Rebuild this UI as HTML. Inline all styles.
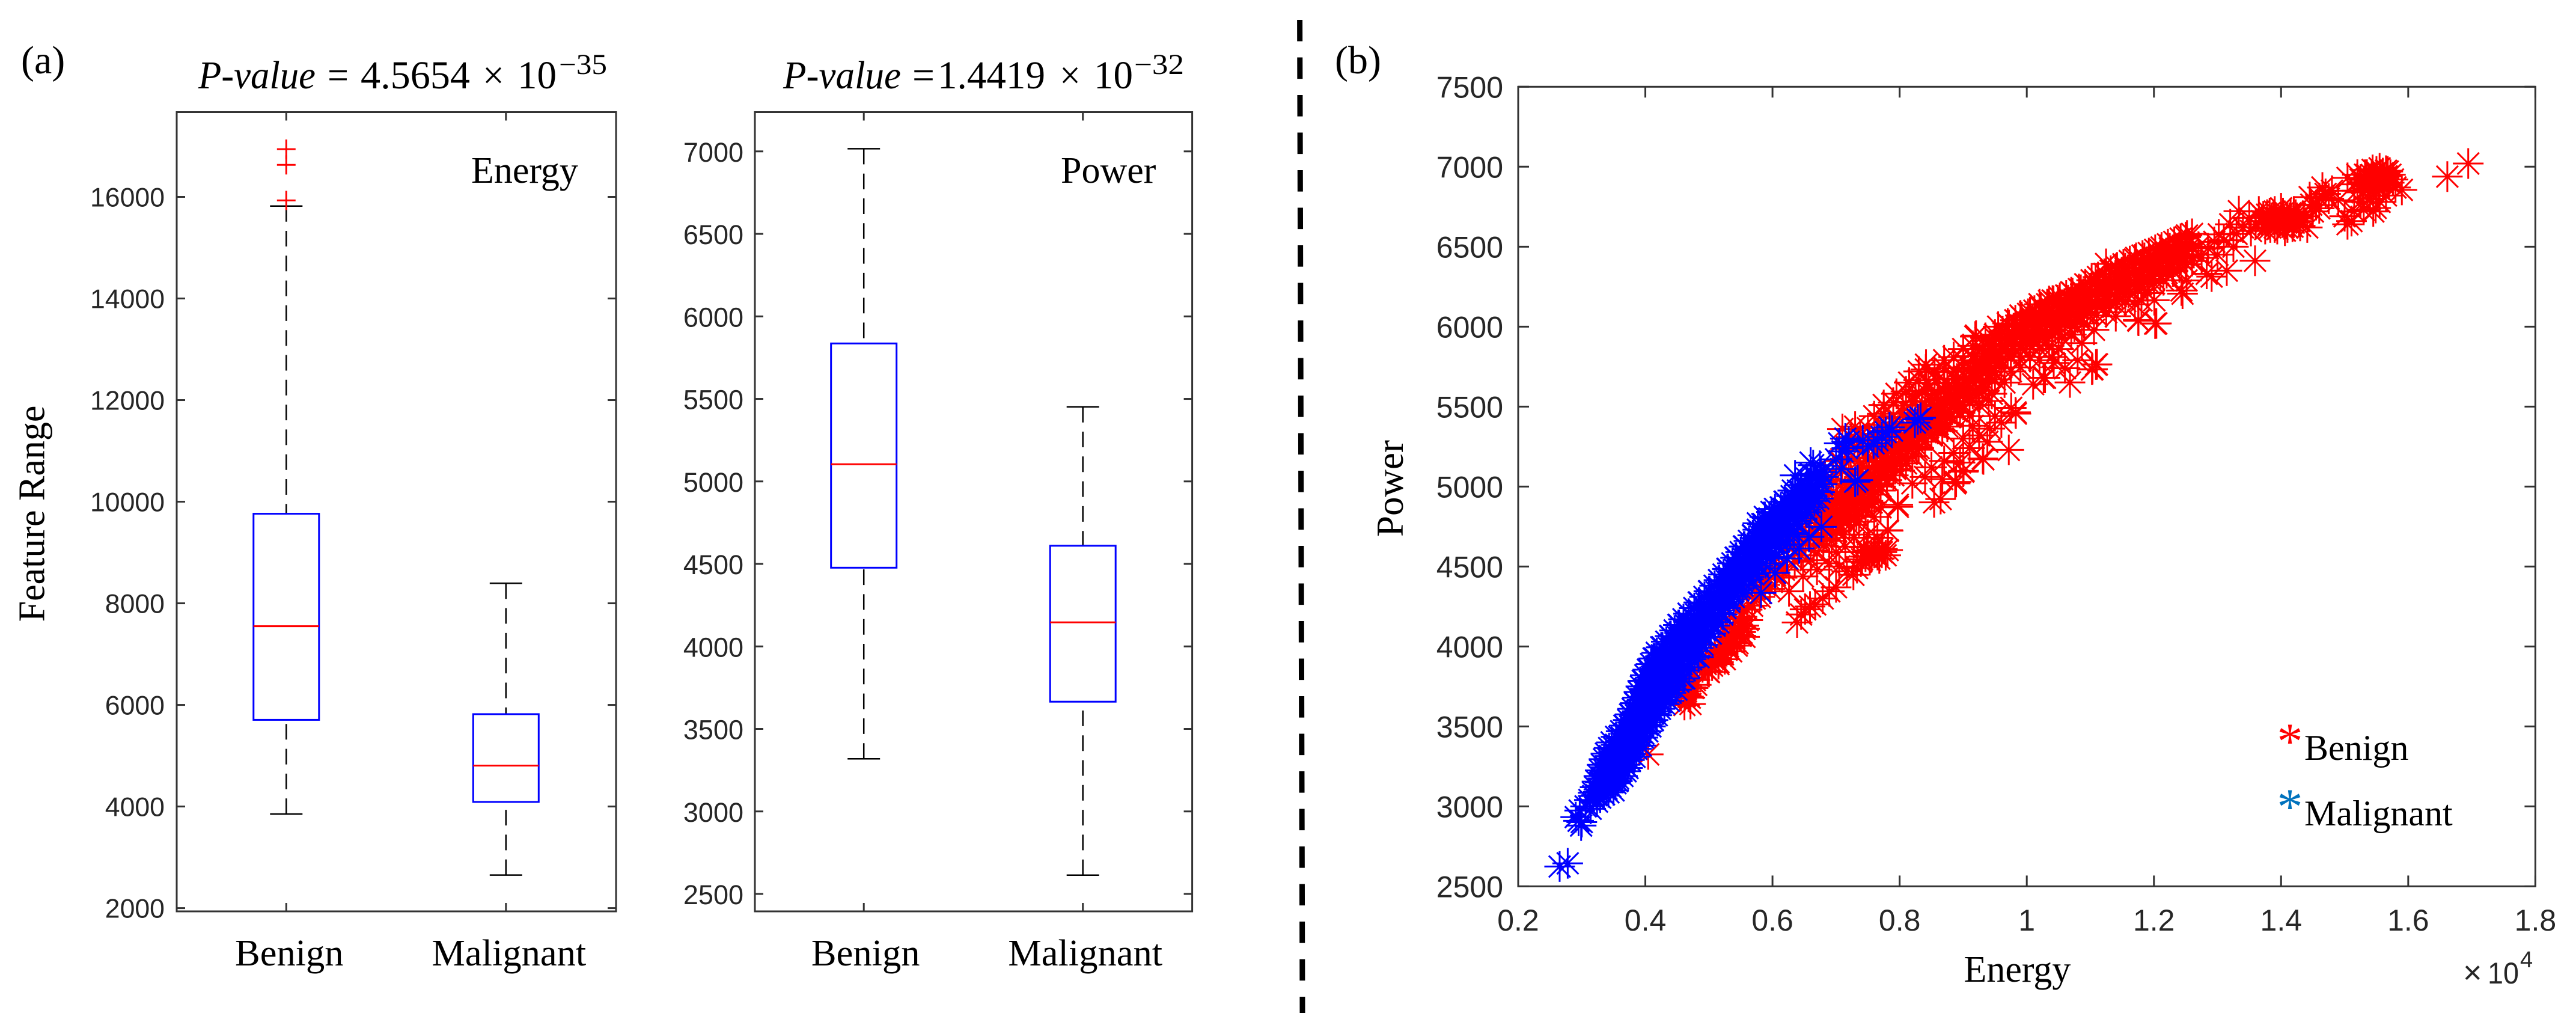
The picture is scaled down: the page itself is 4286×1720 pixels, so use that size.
<!DOCTYPE html>
<html lang="en">
<head>
<meta charset="utf-8">
<title>Benign vs Malignant feature comparison</title>
<style>
html,body{margin:0;padding:0;background:#fff;width:4286px;height:1720px;overflow:hidden}
svg{display:block}
.serif{font-family:"Liberation Serif",serif;fill:#000}
.sans{font-family:"Liberation Sans",sans-serif;fill:#262626}
</style>
</head>
<body>
<svg id="fig" xmlns="http://www.w3.org/2000/svg" width="4286" height="1720" viewBox="0 0 4286 1720">
<rect width="4286" height="1720" fill="#fff"/>
<text class="serif" x="35" y="122" font-size="66">(a)</text>
<text class="serif" x="2221" y="122" font-size="66">(b)</text>

<g class="serif" font-size="66">
<text class="serif" x="330" y="147" font-style="italic" textLength="195" lengthAdjust="spacingAndGlyphs">P-value</text>
<text class="serif" x="545" y="147" textLength="35" lengthAdjust="spacingAndGlyphs">=</text>
<text class="serif" x="600" y="147" textLength="182" lengthAdjust="spacingAndGlyphs">4.5654</text>
<text class="serif" x="803" y="147" textLength="36" lengthAdjust="spacingAndGlyphs">×</text>
<text class="serif" x="861" y="147" textLength="65" lengthAdjust="spacingAndGlyphs">10</text>
<text class="serif" x="930" y="123" font-size="48" textLength="80" lengthAdjust="spacingAndGlyphs">−35</text>
</g>
<g class="serif" font-size="66">
<text class="serif" x="1303" y="147" font-style="italic" textLength="196" lengthAdjust="spacingAndGlyphs">P-value</text>
<text class="serif" x="1518" y="147" textLength="37" lengthAdjust="spacingAndGlyphs">=</text>
<text class="serif" x="1560" y="147" textLength="179" lengthAdjust="spacingAndGlyphs">1.4419</text>
<text class="serif" x="1763" y="147" textLength="35" lengthAdjust="spacingAndGlyphs">×</text>
<text class="serif" x="1820" y="147" textLength="65" lengthAdjust="spacingAndGlyphs">10</text>
<text class="serif" x="1887" y="123" font-size="48" textLength="83" lengthAdjust="spacingAndGlyphs">−32</text>
</g>

<text class="serif" x="784" y="304" font-size="62">Energy</text>
<text class="serif" x="1765" y="304" font-size="62">Power</text>
<text class="serif" font-size="62" text-anchor="middle" transform="translate(73.6 854.5) rotate(-90)">Feature Range</text>
<text class="serif" font-size="63" text-anchor="middle" transform="translate(2334 812.5) rotate(-90)">Power</text>
<text class="serif" x="3267.5" y="1633" font-size="62">Energy</text>

<g>
<text class="sans" x="4098" y="1636" font-size="54">×</text>
<text class="sans" x="4139" y="1636" font-size="50" textLength="52" lengthAdjust="spacingAndGlyphs">10</text>
<text class="sans" x="4193" y="1609" font-size="38">4</text>
</g>

<line x1="2162.6" y1="33" x2="2167" y2="1685" stroke="#000" stroke-width="9" stroke-dasharray="35.6 26.9"/>

<g id="panelEnergy"></g>
<g id="panelPower"></g>
<g id="panelScatter"></g>

<g>
<text x="3810" y="1262" text-anchor="middle" font-family="Liberation Serif, serif" font-size="86" fill="#ff0000">*</text>
<text class="serif" x="3834" y="1264" font-size="60">Benign</text>
<text x="3810" y="1371" text-anchor="middle" font-family="Liberation Serif, serif" font-size="86" fill="#0072bd">*</text>
<text class="serif" x="3834" y="1373" font-size="60">Malignant</text>
</g>
</svg>

<script>
const boxCategories = ["Benign", "Malignant"];
const energyTicks = [2000, 4000, 6000, 8000, 10000, 12000, 14000, 16000];
const energyLow = [3851, 2650];
const energyQ1 = [5706, 4090];
const energyMedian = [7550, 4805];
const energyQ3 = [9763, 5818];
const energyHigh = [15820, 8394];
const energyOutliers = [16940, 16630, 15930];
const powerTicks = [2500, 3000, 3500, 4000, 4500, 5000, 5500, 6000, 6500, 7000];
const powerLow = [3319, 2614];
const powerQ1 = [4477, 3665];
const powerMedian = [5104, 4146];
const powerQ3 = [5836, 4610];
const powerHigh = [7016, 5452];
const scatterXTicks = [2000, 4000, 6000, 8000, 10000, 12000, 14000, 16000, 18000];
const scatterXLabels = ["0.2", "0.4", "0.6", "0.8", "1", "1.2", "1.4", "1.6", "1.8"];
const scatterYTicks = [2500, 3000, 3500, 4000, 4500, 5000, 5500, 6000, 6500, 7000, 7500];

const benignPoints = [
[4045,3325],[4615,3634],[4678,3686],[4560,3690],[4640,3720],[4720,3745],[4600,3780],[4690,3800],[4780,3790],
[4820,3850],[4900,3870],[4980,3845],[4860,3915],[4950,3930],[5040,3905],[5150,3902],[5220,3950],[5090,3975],
[5180,4010],[5280,3990],[5360,4030],[5437,4005],[5500,4067],[5260,4060],[5400,4095],[5330,4120],[5480,4130],[5560,4110],
[5420,4170],[5520,4185],[5610,4165],[5500,4240],[5600,4230],[5680,4255],[5720,4300],[5620,4320],[5800,4310],
[5820,4335],[5750,4370],[5880,4385],[5960,4360],[5840,4430],[5950,4420],[6040,4445],[6150,4430],
[5950,4490],[6060,4500],[6180,4480],[6260,4345],[6480,4438],[6387,4150],[6513,4232],[6672,4263],[6893,4345],[6790,4300],[6590,4250],[6450,4200],[7000,4370],
[6100,4560],[6230,4550],[6350,4530],[6450,4570],[6893,4520],[6700,4480],[6600,4540],[7050,4500],[7273,4448],[7170,4470],[7463,4562],[7560,4560],[7652,4572],[7811,4603],[7720,4590],[7390,4530],[7330,4490],[7600,4620],[7500,4600],
[6250,4620],[6400,4610],[6520,4640],[6650,4600],[6800,4630],[7146,4624],[7000,4590],[6930,4660],
[6330,4680],[6470,4690],[6600,4700],[6720,4680],[6850,4710],[7000,4720],[7120,4700],[7280,4680],[7811,4727],[7500,4700],[7650,4680],
[6450,4750],[6580,4770],[6700,4745],[6830,4775],[6950,4760],[7080,4790],[7210,4760],[7360,4780],[7466,4847],
[6520,4820],[6660,4830],[6800,4810],[6930,4840],[7060,4825],[7190,4850],[7320,4820],[7600,4810],
[6600,4880],[6740,4900],[6880,4885],[7020,4905],[7160,4890],[7300,4915],[7430,4890],[7560,4900],[7818,4724],[7972,4873],[7700,4870],
[6700,4950],[6850,4965],[7000,4945],[7140,4970],[7280,4955],[7420,4980],[7560,4950],[7700,4975],[7970,4886],[8542,4901],[8645,4922],
[6820,5020],[6960,5035],[7100,5015],[7240,5040],[7380,5020],[7520,5045],[7660,5020],[7800,5040],[8873,5020],[8671,5047],[8888,5029],
[6950,5090],[7090,5105],[7230,5085],[7370,5110],[7510,5090],[7650,5115],[7790,5090],[7930,5110],[9006,5098],[9000,5093],[8400,5060],[8200,5020],
[7060,5160],[7200,5175],[7340,5155],[7480,5180],[7620,5160],[7760,5185],[7900,5160],[8040,5180],[9308,5175],[9317,5170],[8500,5120],[8700,5160],[8950,5150],
[7150,5235],[7290,5250],[7430,5230],[7570,5255],[7710,5235],[7850,5260],[7990,5235],[8130,5255],[8270,5230],[9717,5229],[9380,5280],[9100,5240],[8850,5210],
[7240,5310],[7380,5325],[7520,5305],[7660,5330],[7800,5310],[7940,5335],[8080,5310],[8220,5330],[8360,5305],[8500,5330],[8671,5348],[9418,5362],[9250,5320],[9000,5300],
[7100,5360],[7300,5375],[7500,5365],[7700,5385],[7850,5370],[8000,5395],[8150,5370],[8300,5395],[8450,5370],[8600,5390],[8750,5375],[9150,5380],[9823,5464],[9828,5456],[9755,5492],[9500,5440],[9600,5400],
[7600,5440],[7750,5455],[7900,5435],[8050,5460],[8200,5440],[8350,5465],[8500,5440],[8650,5465],[8800,5440],[8950,5460],[9100,5440],
[7750,5510],[7900,5525],[8050,5505],[8200,5530],[8350,5510],[8500,5535],[8650,5510],[8800,5535],[8950,5510],[9100,5530],[9250,5510],[9400,5535],
[7950,5580],[8100,5595],[8250,5575],[8400,5600],[8550,5580],[8700,5605],[8850,5580],[9000,5605],[9150,5580],[9300,5600],[9450,5580],
[8150,5650],[8300,5665],[8450,5645],[8600,5670],[8750,5650],[8900,5675],[9050,5650],[9200,5675],[9350,5650],[9500,5670],[9650,5650],[10287,5680],[10679,5651],[10266,5680],[10100,5640],
[8300,5720],[8412,5732],[8415,5762],[8550,5715],[8700,5740],[8850,5720],[9000,5745],[9150,5720],[9300,5745],[9450,5720],[9600,5745],[9750,5720],[9900,5745],[11104,5764],[11034,5734],[11089,5763],[11025,5732],[10424,5773],[10600,5740],[10800,5790],
[8700,5790],[8850,5810],[9000,5790],[9150,5815],[9300,5790],[9450,5815],[9600,5790],[9750,5815],[9900,5790],[10050,5810],[10200,5790],[10400,5810],
[9000,5860],[9150,5880],[9300,5860],[9450,5885],[9600,5860],[9750,5885],[9900,5860],[10050,5885],[10200,5860],[10350,5880],[10500,5860],[10867,5897],
[9202,5944],[9190,5938],[9350,5930],[9500,5950],[9650,5930],[9800,5955],[9950,5930],[10100,5955],[10250,5930],[10400,5950],[10550,5930],[10700,5950],
[9550,6000],[9700,6020],[9850,6000],[10000,6025],[10150,6000],[10300,6025],[10450,6000],[10600,6020],[10750,6000],[10900,6020],[11057,5980],[11753,6041],[11757,6037],[12019,6019],[12038,6020],
[9900,6070],[10050,6090],[10200,6070],[10350,6095],[10500,6070],[10650,6090],[10800,6070],[10950,6090],[11100,6070],[11250,6090],[11400,6065],
[10200,6140],[10350,6160],[10406,6163],[10500,6140],[10650,6165],[10800,6140],[10950,6165],[11100,6140],[11250,6165],[11400,6140],[11550,6160],[11700,6140],[12006,6165],[11804,6163],
[10487,6165],[10700,6215],[10850,6230],[11000,6210],[11150,6235],[11300,6210],[11450,6235],[11600,6210],[11750,6230],[11900,6210],[12450,6206],[12433,6226],[11120,6227],
[11082,6288],[11250,6290],[11400,6275],[11550,6295],[11700,6275],[11850,6295],[12000,6270],[12150,6290],[12513,6289],
[11247,6392],[11400,6350],[11550,6365],[11700,6345],[11850,6365],[11943,6412],[12000,6350],[12150,6360],[12300,6345],[12830,6330],[13146,6350],[12908,6313],
[11700,6420],[11850,6430],[12000,6410],[12150,6430],[12300,6420],[12450,6440],[12513,6474],[12600,6410],[12750,6430],[13590,6412],
[12100,6480],[12250,6490],[12400,6500],[12550,6520],[12700,6500],[12850,6490],[13000,6450],[12500,6560],[12600,6580],
[13020,6577],[12950,6530],[13100,6540],[13250,6500],[13300,6580],[13400,6620],[13336,6722],[13526,6598],[13200,6640],
[13500,6680],[13600,6640],[13700,6660],[13780,6700],[13800,6640],[13850,6680],[13900,6720],[13950,6650],[14000,6690],[14050,6640],[14096,6680],[14150,6710],[14200,6650],[14250,6680],[14300,6630],[14350,6690],[14412,6620],[13650,6720],[13900,6620],[14100,6620],[13750,6610],[14000,6740],[14200,6720],
[14475,6763],[14602,6804],[14700,6830],[14550,6760],[14650,6870],[14800,6850],[14500,6720],[14450,6810],[14600,6740],[14750,6800],[14900,6790],
[15045,6930],[15108,6660],[15045,6640],[15000,6690],[15150,6720],[15250,6780],[15200,6850],[15300,6900],[15350,6950],[15425,6948],[15500,6970],[15550,6990],[15600,6960],[15650,6975],[15678,6970],[15600,6900],[15500,6850],[15488,6742],[15400,6800],[15700,6900],[15800,6870],[15900,6855],[15550,6780],[15450,6720],[15200,6950],[15150,6890],[15300,6730],[15400,6880],[15650,6820],
[16615,6938],[16944,7020],
[5100,3930],[5200,3960],[5300,4000],[5400,4050],[5500,4090],[5350,3970],[5450,4020],[5250,3920],[5550,4130],[5150,3890],[5050,3880],[5000,3840],[4950,3890],[5220,4010],[5330,4060],[5420,4110],[5560,4060],[4700,3680],[4750,3740],[4650,3760],[4800,3760],[4620,3690],[4710,3640],
[6800,4670],[6810,4730],[6790,4790],[6900,4730],[6910,4790],[6890,4850],[7000,4770],[7010,4830],[6990,4890],[7100,4800],[7110,4860],[7090,4920],[7200,4830],[7210,4890],[7190,4950],[7300,4860],[7310,4920],[7290,4980],
[7410,4545],[7480,4590],[7530,4540],[7600,4585],[7680,4550],[7730,4610],[7780,4570],[7440,4620],
[7400,4870],[7410,4930],[7390,4990],[7420,5050],[7500,4910],[7510,4970],[7490,5030],[7520,5090],[7600,4950],[7610,5010],[7590,5070],[7620,5130],[7700,5000],[7710,5060],[7690,5120],[7720,5180],[7800,5040],[7810,5100],[7790,5160],[7820,5220],
[7900,5070],[7910,5130],[7890,5190],[7920,5250],[8000,5100],[8010,5160],[7990,5220],[8020,5280],[8100,5145],[8110,5205],[8090,5265],[8120,5325],[8200,5190],[8210,5250],[8190,5310],[8220,5370],[8300,5240],[8310,5300],[8290,5360],[8320,5420],
[8400,5280],[8410,5340],[8390,5400],[8420,5460],[8500,5320],[8510,5380],[8490,5440],[8520,5500],[8600,5360],[8610,5420],[8590,5480],[8620,5540],[8700,5400],[8710,5460],[8690,5520],[8720,5580],[8800,5435],[8810,5495],[8790,5555],[8820,5615],
[8900,5470],[8910,5530],[8890,5590],[8920,5650],[9000,5510],[9010,5570],[8990,5630],[9020,5690],[9100,5555],[9110,5615],[9090,5675],[9120,5735],[9200,5600],[9210,5660],[9190,5720],[9220,5780],[9300,5650],[9310,5710],[9290,5770],[9320,5830],
[9400,5695],[9410,5755],[9390,5815],[9420,5875],[9500,5740],[9510,5800],[9490,5860],[9520,5920],[9600,5790],[9610,5850],[9590,5910],[9620,5970],[9700,5830],[9710,5890],[9690,5950],[9720,6010],[9800,5860],[9810,5920],[9790,5980],[9820,6040],
[9900,5880],[9910,5940],[9890,6000],[9920,6060],[10000,5900],[10010,5960],[9990,6020],[10020,6080],[10100,5920],[10110,5980],[10090,6040],[10120,6100],[10200,5940],[10210,6000],[10190,6060],[10220,6120],[10300,5960],[10310,6020],[10290,6080],[10320,6140],
[10400,5980],[10410,6040],[10390,6100],[10420,6160],[10500,6000],[10510,6060],[10490,6120],[10520,6180],[10600,6015],[10610,6075],[10590,6135],[10620,6195],[10700,6030],[10710,6090],[10690,6150],[10720,6210],[10800,6055],[10810,6115],[10790,6175],[10820,6235],
[10900,6085],[10910,6145],[10890,6205],[10920,6265],[11000,6110],[11010,6170],[10990,6230],[11020,6290],[11100,6130],[11110,6190],[11090,6250],[11120,6310],[11200,6150],[11210,6210],[11190,6270],[11220,6330],[11300,6170],[11310,6230],[11290,6290],[11320,6350],
[11400,6190],[11410,6250],[11390,6310],[11420,6370],[11500,6210],[11510,6270],[11490,6330],[11520,6390],[11600,6230],[11610,6290],[11590,6350],[11620,6410],[11700,6250],[11710,6310],[11690,6370],[11720,6430],[11800,6265],[11810,6325],[11790,6385],[11820,6445],
[11900,6280],[11910,6340],[11890,6400],[11920,6460],[12000,6300],[12010,6360],[11990,6420],[12020,6480],[12100,6315],[12110,6375],[12090,6435],[12120,6495],[12200,6335],[12210,6395],[12190,6455],[12220,6515],[12300,6350],[12310,6410],[12290,6470],[12320,6530],
[12400,6370],[12410,6430],[12390,6490],[12420,6550],[12500,6390],[12510,6450],[12490,6510],[12520,6570],
[13780,6660],[13830,6620],[13880,6690],[13940,6610],[13980,6660],[14030,6710],[14080,6650],[14130,6680],[14180,6625],[14230,6700],[14280,6660],[13720,6690],[13820,6710],[13920,6680],[14060,6600],
[15250,6920],[15320,6950],[15380,6910],[15440,6980],[15480,6930],[15530,6900],[15570,6950],[15620,6930],[15660,6940],[15540,6860],[15450,6890],[15360,6860],[15280,6840],[15720,6950],[15760,6920]
];

const malignantPoints = [
[2652,2624],[2779,2644],[2905,2933],[3000,2902],[2968,2974],[2990,2880],[2950,2910],
[3060,3000],[3120,3040],[3180,3065],[3240,3030],[3290,3055],[3140,2985],
[3210,3120],[3270,3105],[3330,3130],[3390,3110],[3450,3125],[3500,3100],[3230,3070],[3350,3075],
[3270,3190],[3330,3175],[3390,3200],[3450,3180],[3510,3195],[3570,3175],[3640,3190],[3290,3150],[3420,3155],[3530,3145],
[3320,3260],[3380,3245],[3440,3270],[3500,3250],[3560,3265],[3620,3245],[3680,3260],[3720,3240],[3360,3225],[3480,3220],[3600,3215],
[3380,3330],[3440,3315],[3500,3340],[3570,3320],[3640,3335],[3700,3315],[3770,3330],[3830,3310],[3420,3295],[3540,3290],[3660,3285],
[3470,3400],[3540,3385],[3610,3410],[3680,3390],[3750,3405],[3820,3385],[3880,3400],[3930,3380],[3510,3365],[3640,3360],[3780,3355],
[3620,3470],[3690,3455],[3760,3480],[3830,3460],[3900,3475],[3970,3455],[4030,3470],[3590,3435],[3720,3430],[3860,3425],
[3730,3540],[3800,3525],[3870,3550],[3940,3530],[4010,3545],[4070,3525],[4120,3540],[3680,3505],[3810,3495],[3950,3495],
[3800,3610],[3870,3595],[3940,3620],[4010,3600],[4080,3615],[4150,3595],[4230,3610],[3770,3575],[3900,3570],[4040,3570],
[3880,3680],[3950,3665],[4020,3690],[4090,3670],[4170,3685],[4240,3665],[4310,3680],[4370,3660],[3850,3645],[3990,3640],[4130,3640],
[3930,3750],[4000,3735],[4080,3760],[4160,3740],[4240,3755],[4320,3735],[4400,3750],[4490,3730],[3900,3715],[4060,3710],[4220,3705],
[4000,3820],[4080,3805],[4160,3830],[4240,3810],[4320,3825],[4400,3805],[4480,3820],[4590,3800],[3980,3785],[4140,3780],[4300,3775],
[4090,3890],[4170,3875],[4250,3900],[4330,3880],[4410,3895],[4490,3875],[4570,3890],[4690,3870],[4836,3933],[4615,3800],[4060,3855],[4230,3850],[4400,3845],
[4180,3960],[4260,3945],[4340,3970],[4420,3950],[4500,3965],[4580,3945],[4660,3960],[4780,3940],[4150,3925],[4320,3920],[4500,3915],
[4330,4030],[4410,4015],[4490,4040],[4570,4020],[4650,4035],[4730,4015],[4810,4030],[4900,4010],[4270,3995],[4440,3990],[4620,3985],
[4460,4100],[4540,4085],[4620,4110],[4700,4090],[4780,4105],[4860,4085],[4940,4100],[5030,4080],[4400,4065],[4580,4060],[4760,4055],
[4600,4170],[4680,4155],[4760,4180],[4840,4160],[4920,4175],[5000,4155],[5080,4170],[5150,4150],[4530,4135],[4710,4130],[4890,4125],
[4770,4240],[4850,4225],[4930,4250],[5010,4230],[5090,4245],[5170,4225],[5260,4240],[4680,4205],[4860,4200],[5040,4195],
[4930,4310],[5010,4295],[5090,4320],[5170,4300],[5250,4315],[5330,4295],[5390,4310],[4850,4275],[5030,4270],[5210,4265],
[5090,4380],[5170,4365],[5250,4390],[5330,4370],[5410,4385],[5490,4365],[5530,4380],[5010,4345],[5190,4340],[5370,4335],
[5230,4450],[5310,4435],[5390,4460],[5470,4440],[5550,4455],[5630,4435],[5700,4450],[5160,4414],[5350,4410],[5520,4405],
[5370,4520],[5450,4505],[5530,4530],[5610,4510],[5690,4525],[5770,4505],[5890,4520],[5300,4485],[5480,4480],[5660,4475],[5820,4335],[6040,4460],
[5500,4590],[5580,4575],[5660,4600],[5740,4580],[5820,4595],[5900,4575],[6030,4590],[5430,4555],[5610,4550],[5790,4545],[6230,4550],
[5630,4660],[5710,4645],[5790,4670],[5870,4650],[5950,4665],[6030,4645],[6110,4660],[6230,4640],[5560,4625],[5740,4620],[5920,4615],[6420,4613],
[5770,4730],[5850,4715],[5930,4740],[6010,4720],[6090,4735],[6170,4715],[6250,4730],[6340,4710],[5700,4695],[5880,4690],[6060,4685],[6575,4685],[6770,4748],
[5950,4800],[6030,4785],[6110,4810],[6190,4790],[6270,4805],[6350,4785],[6470,4800],[5860,4765],[6040,4760],[6220,4755],[5770,4770],[5880,4810],[6040,4860],
[6130,4870],[6210,4855],[6290,4880],[6370,4860],[6450,4875],[6530,4855],[6600,4870],[5984,4841],[6220,4830],[6400,4825],
[6300,4940],[6380,4925],[6460,4950],[6540,4930],[6620,4945],[6720,4925],[6200,4905],[6380,4900],[6560,4895],
[6355,5070],[6450,5010],[6530,4995],[6610,5020],[6690,5000],[6780,5015],[6400,4975],[6580,4970],[6740,4965],
[6600,5080],[6680,5065],[6760,5090],[6640,5134],[6600,5150],[6744,5130],[6540,5050],[6700,5040],[6800,5060],
[7080,5110],[7146,5300],[7300,5030],[7340,5040],[7000,5170],[7100,5220],[7050,5270],[7200,5280],[7170,5240],
[7590,5270],[7500,5250],[7420,5290],[7840,5370],[7780,5340],[7720,5310],[7650,5290],[7880,5350],[8285,5420],[8330,5430],[8240,5400],
[3180,3085],[3260,3090],[3340,3080],[3420,3088],
[3240,3155],[3320,3150],[3400,3160],[3480,3152],[3560,3158],
[3290,3225],[3370,3220],[3450,3228],[3530,3222],[3610,3230],[3690,3220],
[3350,3295],[3430,3290],[3510,3298],[3590,3292],[3670,3300],[3750,3290],
[3430,3365],[3520,3360],[3610,3368],[3700,3362],[3790,3370],[3860,3360],
[3540,3435],[3630,3430],[3720,3438],[3810,3432],[3900,3440],[3960,3430],
[3670,3505],[3760,3500],[3850,3508],[3940,3502],[4030,3510],[4080,3500],
[3760,3575],[3850,3570],[3940,3578],[4030,3572],[4120,3580],[4180,3570],
[3840,3645],[3940,3640],[4040,3648],[4140,3642],[4240,3650],[4300,3640],
[3900,3715],[4000,3710],[4100,3718],[4200,3712],[4300,3720],[4400,3710],
[3960,3785],[4070,3780],[4180,3788],[4290,3782],[4400,3790],[4520,3780],
[4040,3855],[4150,3850],[4260,3858],[4370,3852],[4480,3860],[4620,3850],
[4130,3925],[4250,3920],[4370,3928],[4490,3922],[4610,3930],[4720,3920],
[4250,3995],[4370,3990],[4490,3998],[4610,3992],[4730,4000],[4830,3990],
[4390,4065],[4510,4060],[4630,4068],[4750,4062],[4870,4070],[4960,4060],
[4520,4135],[4640,4130],[4760,4138],[4880,4132],[5000,4140],[5090,4130],
[4680,4205],[4800,4200],[4920,4208],[5040,4202],[5160,4210],[5210,4200],
[4840,4275],[4960,4270],[5080,4278],[5200,4272],[5320,4280],
[5000,4345],[5120,4340],[5240,4348],[5360,4342],[5460,4350],
[5160,4415],[5280,4410],[5400,4418],[5520,4412],[5620,4420],
[5290,4485],[5410,4480],[5530,4488],[5650,4482],[5790,4490],
[5420,4555],[5540,4550],[5660,4558],[5780,4552],[5960,4560],
[5550,4625],[5670,4620],[5790,4628],[5910,4622],[6100,4630],
[5690,4695],[5810,4690],[5930,4698],[6050,4692],[6280,4700],
[5840,4765],[5960,4760],[6080,4768],[6200,4762],[6400,4770],
[6020,4835],[6140,4830],[6260,4838],[6380,4832],[6530,4840],
[6190,4905],[6310,4900],[6430,4908],[6550,4902],[6660,4910],
[6320,4975],[6440,4970],[6560,4978],[6680,4972]
];

const svg = document.getElementById('fig');
const NS = 'http://www.w3.org/2000/svg';

function make(parent, tag, attrs, name) {
  const el = document.createElementNS(NS, tag);
  for (const k in attrs) el.setAttribute(k, attrs[k]);
  
  
  parent.appendChild(el);
  return el;
}
function linear(d0, d1, r0, r1) {
  return v => r0 + (v - d0) * (r1 - r0) / (d1 - d0);
}
function seg(parent, x1, y1, x2, y2, color, w, name, dash) {
  const a = {x1, y1, x2, y2, stroke: color, 'stroke-width': w};
  if (dash) a['stroke-dasharray'] = dash;
  return make(parent, 'line', a, name);
}
function label(parent, x, y, str, size, anchor, cls, name) {
  const t = make(parent, 'text', {x, y, 'font-size': size, 'text-anchor': anchor, class: cls}, name);
  t.textContent = str;
  return t;
}
const AXIS = '#333333';

function drawBoxPanel(parent, opt) {
  const yScale = opt.yScale, xScale = opt.xScale;
  make(parent, 'rect', {x: opt.left, y: opt.top, width: opt.right - opt.left, height: opt.bottom - opt.top, fill: 'none', stroke: AXIS, 'stroke-width': 3}, 'axes-frame');
  opt.ticks.forEach(v => {
    const y = yScale(v);
    seg(parent, opt.left, y, opt.left + opt.tick, y, AXIS, 3, 'y-tick');
    seg(parent, opt.right, y, opt.right - opt.tick, y, AXIS, 3, 'y-tick');
    label(parent, opt.labelX, y + opt.labelDy, String(v), opt.labelSize, 'end', 'sans', 'y-tick-label');
  });
  boxCategories.forEach((c, i) => {
    const x = xScale(i);
    seg(parent, x, opt.top, x, opt.top + opt.tick, AXIS, 3, 'x-tick');
    seg(parent, x, opt.bottom, x, opt.bottom - opt.tick, AXIS, 3, 'x-tick');
    label(parent, x + opt.catDx[i], 1606, c, 62.5, 'middle', 'serif', 'x-category-label');
    const yH = yScale(opt.high[i]), yQ3 = yScale(opt.q3[i]), yQ1 = yScale(opt.q1[i]), yL = yScale(opt.low[i]), yM = yScale(opt.median[i]);
    seg(parent, x, yH, x, yQ3, '#000', 2.5, 'upper-whisker', '26 15.3');
    seg(parent, x, yL, x, yQ1, '#000', 2.5, 'lower-whisker', '26 15.3');
    seg(parent, x - opt.cap, yH, x + opt.cap, yH, '#000', 2.5, 'upper-whisker-cap');
    seg(parent, x - opt.cap, yL, x + opt.cap, yL, '#000', 2.5, 'lower-whisker-cap');
    make(parent, 'rect', {x: x - opt.box, y: yQ3, width: 2 * opt.box, height: yQ1 - yQ3, fill: 'none', stroke: '#0000ff', 'stroke-width': 3}, 'box-' + c.toLowerCase());
    seg(parent, x - opt.box, yM, x + opt.box, yM, '#ff0000', 3, 'median-' + c.toLowerCase());
  });
}

const yEnergy = linear(2000, 16000, 1510.6, 327.5);
const xEnergy = linear(0, 1, 476.3, 841.8);
const panelEnergy = document.getElementById('panelEnergy');
drawBoxPanel(panelEnergy, {
  left: 294, right: 1025, top: 186.5, bottom: 1516, tick: 14, cap: 27, box: 54.5,
  ticks: energyTicks, yScale: yEnergy, xScale: xEnergy, labelX: 274, labelDy: 16, labelSize: 44.6, catDx: [5, 5],
  low: energyLow, q1: energyQ1, median: energyMedian, q3: energyQ3, high: energyHigh
});
energyOutliers.forEach(v => {
  const x = xEnergy(0), y = yEnergy(v);
  seg(panelEnergy, x - 15.5, y, x + 15.5, y, '#ff0000', 3, 'outlier-mark');
  seg(panelEnergy, x, y - 16, x, y + 16, '#ff0000', 3, 'outlier-mark');
});

const yPower = linear(2500, 7000, 1487, 251.8);
const xPower = linear(0, 1, 1437.2, 1801.7);
drawBoxPanel(document.getElementById('panelPower'), {
  left: 1256, right: 1983.6, top: 186.5, bottom: 1516, tick: 14, cap: 27, box: 54.5,
  ticks: powerTicks, yScale: yPower, xScale: xPower, labelX: 1237, labelDy: 17, labelSize: 45, catDx: [3, 4],
  low: powerLow, q1: powerQ1, median: powerMedian, q3: powerQ3, high: powerHigh
});

const panelScatter = document.getElementById('panelScatter');
const sL = 2526, sR = 4218.4, sT = 144.3, sB = 1474.4;
const xS = linear(2000, 18000, sL, sR);
const yS = linear(2500, 7500, sB, sT);
const R = 25.5, D = R * 0.707;
function star(parent, p, color, name) {
  const x = xS(p[0]), y = yS(p[1]);
  const d = 'M' + (x - R) + ' ' + y + 'H' + (x + R) + 'M' + x + ' ' + (y - R) + 'V' + (y + R) +
    'M' + (x - D) + ' ' + (y - D) + 'L' + (x + D) + ' ' + (y + D) +
    'M' + (x - D) + ' ' + (y + D) + 'L' + (x + D) + ' ' + (y - D);
  make(parent, 'path', {d, fill: 'none', stroke: color, 'stroke-width': 3}, name);
}
benignPoints.forEach(p => star(panelScatter, p, '#ff0000', 'benign-point'));
malignantPoints.forEach(p => star(panelScatter, p, '#0000ff', 'malignant-point'));

make(panelScatter, 'rect', {x: sL, y: sT, width: sR - sL, height: sB - sT, fill: 'none', stroke: AXIS, 'stroke-width': 3}, 'axes-frame');
scatterXTicks.forEach((v, i) => {
  const x = xS(v);
  seg(panelScatter, x, sT, x, sT + 18, AXIS, 3, 'x-tick');
  seg(panelScatter, x, sB, x, sB - 18, AXIS, 3, 'x-tick');
  label(panelScatter, x, 1548, scatterXLabels[i], 50, 'middle', 'sans', 'x-tick-label');
});
scatterYTicks.forEach(v => {
  const y = yS(v);
  seg(panelScatter, sL, y, sL + 18, y, AXIS, 3, 'y-tick');
  seg(panelScatter, sR, y, sR - 18, y, AXIS, 3, 'y-tick');
  label(panelScatter, 2501, y + 18, String(v), 50, 'end', 'sans', 'y-tick-label');
});
</script>
</body>
</html>
